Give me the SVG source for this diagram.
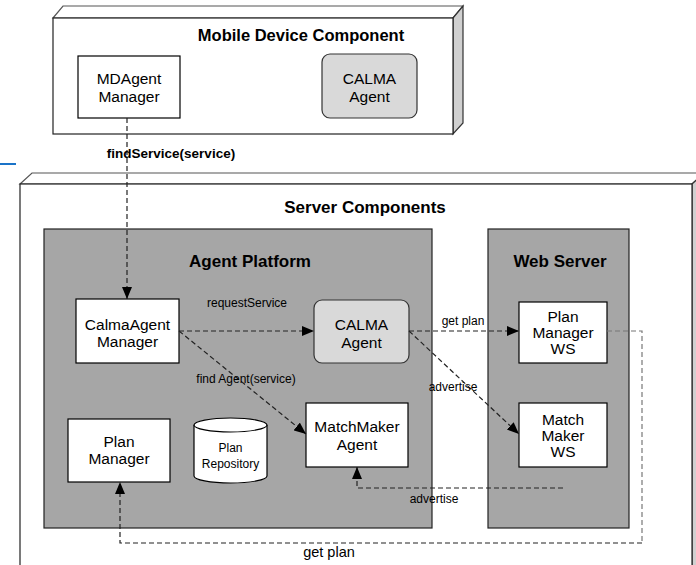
<svg xmlns="http://www.w3.org/2000/svg" width="696" height="565" viewBox="0 0 696 565">
<defs>
<marker id="arr" markerUnits="userSpaceOnUse" markerWidth="12" markerHeight="10" viewBox="0 0 12 10" refX="12" refY="5" orient="auto">
<path d="M0,0 L12,5 L0,10 Z" fill="#000"/>
</marker>
</defs>
<style>
text{font-family:"Liberation Sans",Arial,sans-serif;fill:#000}
.title{font-weight:bold;font-size:17px;text-anchor:middle}
.node{fill:#fff;stroke:#000;stroke-width:1.2}
.agent{fill:#d9d9d9;stroke:#333;stroke-width:1.2}
.lbl{font-size:15.5px;text-anchor:middle}
.small{font-size:12px}
.plat{fill:#a6a6a6;stroke:#222;stroke-width:1.2}
.box{fill:#fff;stroke:#222;stroke-width:1.2}
.side{fill:#d0d0d0;stroke:#333;stroke-width:1.2}
.top{fill:#fff;stroke:#555;stroke-width:1.2}
.dash{fill:none;stroke:#222;stroke-width:1.2;stroke-dasharray:5,3}
</style>
<line x1="0" y1="164" x2="16" y2="164" stroke="#1a73c8" stroke-width="2"/>
<g id="mobile-device">
<polygon class="top" points="53,18 63,6 463,6 453,18"/>
<polygon class="side" points="453,18 463,6 463,123 453,134"/>
<rect class="box" x="53" y="18" width="400" height="116"/>
<text class="title" x="301" y="41" style="font-size:16.5px">Mobile Device Component</text>
</g>
<g id="server">
<polygon class="top" points="20,184 32,173 704,173 692,184"/>
<polygon class="side" points="692,184 704,173 704,570 692,570"/>
<rect class="box" x="20" y="184" width="672" height="390"/>
<text class="title" x="365" y="213">Server Components</text>
</g>
<g id="agent-platform">
<rect class="plat" x="44" y="229" width="388" height="299"/>
<text class="title" x="250" y="267">Agent Platform</text>
</g>
<g id="web-server">
<rect class="plat" x="488" y="229" width="141" height="299"/>
<text class="title" x="560" y="267">Web Server</text>
</g>
<g id="mdagent-manager">
<rect class="node" x="78" y="56" width="102" height="62"/>
<text class="lbl" x="129" y="84">MDAgent</text>
<text class="lbl" x="129" y="102">Manager</text>
</g>
<g id="calma-agent-mobile">
<rect class="agent" x="322" y="54" width="95" height="64" rx="8"/>
<text class="lbl" x="369.5" y="84">CALMA</text>
<text class="lbl" x="369.5" y="102">Agent</text>
</g>
<g id="calmaagent-manager">
<rect class="node" x="76" y="299" width="103" height="64"/>
<text class="lbl" x="127.5" y="330">CalmaAgent</text>
<text class="lbl" x="127.5" y="347">Manager</text>
</g>
<g id="calma-agent">
<rect class="agent" x="314" y="300" width="95" height="63" rx="8"/>
<text class="lbl" x="361.5" y="330">CALMA</text>
<text class="lbl" x="361.5" y="348">Agent</text>
</g>
<g id="matchmaker-agent">
<rect class="node" x="306" y="403" width="102" height="64"/>
<text class="lbl" x="357" y="432">MatchMaker</text>
<text class="lbl" x="357" y="450">Agent</text>
</g>
<g id="plan-manager">
<rect class="node" x="68" y="419" width="102" height="63"/>
<text class="lbl" x="119" y="447">Plan</text>
<text class="lbl" x="119" y="464">Manager</text>
</g>
<g id="plan-repository">
<path d="M194,425 L194,476 A36.5,7 0 0 0 267,476 L267,425" fill="#fff" stroke="#000" stroke-width="1.2"/>
<ellipse cx="230.5" cy="425" rx="36.5" ry="7" fill="#fff" stroke="#000" stroke-width="1.2"/>
<text class="small" x="230.5" y="452" text-anchor="middle">Plan</text>
<text class="small" x="230.5" y="468" text-anchor="middle">Repository</text>
</g>
<g id="plan-manager-ws">
<rect class="node" x="519" y="302" width="88" height="61"/>
<text class="lbl" x="563" y="322">Plan</text>
<text class="lbl" x="563" y="338">Manager</text>
<text class="lbl" x="563" y="354">WS</text>
</g>
<g id="match-maker-ws">
<rect class="node" x="519" y="403" width="88" height="64"/>
<text class="lbl" x="563" y="425">Match</text>
<text class="lbl" x="563" y="441">Maker</text>
<text class="lbl" x="563" y="457">WS</text>
</g>
<g id="connectors">
<path class="dash" d="M127,118 L127,299" marker-end="url(#arr)"/>
<text x="171" y="158" text-anchor="middle" style="font-size:13.5px;font-weight:bold">findService(service)</text>
<path class="dash" d="M179,331 L314,331" marker-end="url(#arr)"/>
<text class="small" x="247" y="307" text-anchor="middle">requestService</text>
<path class="dash" d="M179,331 L306,434" marker-end="url(#arr)"/>
<text class="small" x="246" y="383" text-anchor="middle">find Agent(service)</text>
<path class="dash" d="M409,331 L519,331" marker-end="url(#arr)"/>
<text class="small" x="463" y="325" text-anchor="middle">get plan</text>
<path class="dash" d="M409,331 L519,434" marker-end="url(#arr)"/>
<text class="small" x="453" y="391" text-anchor="middle">advertise</text>
<path class="dash" d="M563,488 L357,488 L357,467" marker-end="url(#arr)"/>
<text class="small" x="434" y="503" text-anchor="middle">advertise</text>
<path class="dash" d="M607,331 L642,331 L642,543" style="stroke:#777"/>
<path class="dash" d="M642,543 L120,543 L120,482" marker-end="url(#arr)"/>
<text x="329" y="557" text-anchor="middle" style="font-size:14.5px">get plan</text>
</g>
</svg>
